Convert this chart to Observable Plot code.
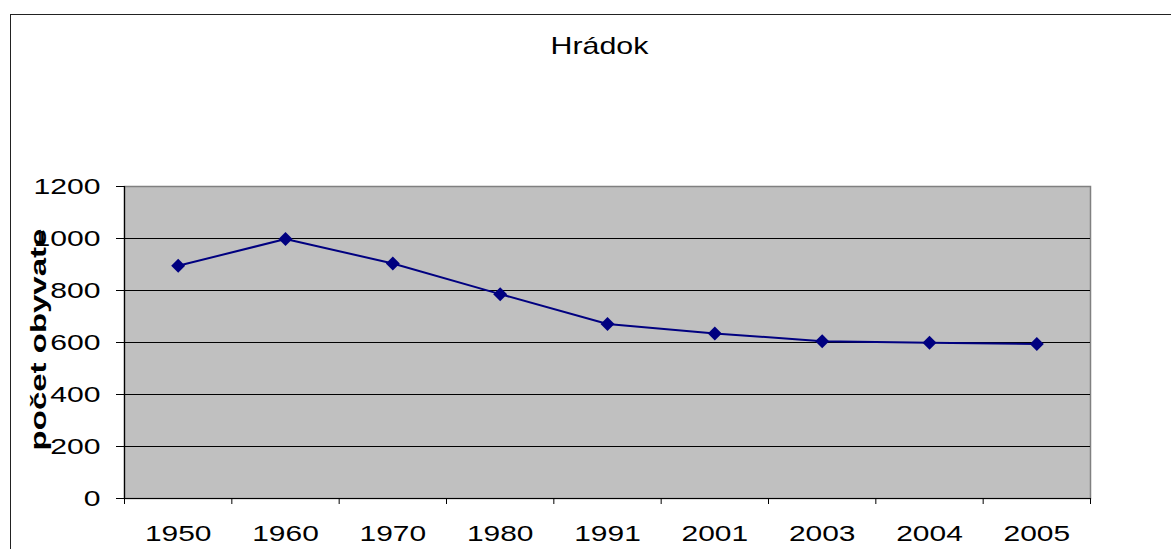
<!DOCTYPE html>
<html>
<head>
<meta charset="utf-8">
<script src="https://cdn.jsdelivr.net/npm/d3@7"></script>
<script src="https://cdn.jsdelivr.net/npm/@observablehq/plot@0.6"></script>
<style>
  html, body { margin: 0; padding: 0; background: #fff; overflow: hidden; }
  #wrap { position: relative; width: 1171px; height: 549px; }
  #border { position: absolute; left: 10px; top: 14px; width: 1300px; height: 700px; border: 1px solid #222; box-sizing: border-box; }
  #chart { position: absolute; left: 0; top: 0; }
  svg text { font-family: "Liberation Sans", Arial, sans-serif; }
</style>
</head>
<body>
<div id="wrap">
  <div id="border"></div>
  <div id="chart"></div>
</div>
<script>
const title = "Hrádok";
const yLabel = "počet obyvate";
const years = ["1950", "1960", "1970", "1980", "1991", "2001", "2003", "2004", "2005"];
const population = [895, 998, 904, 786, 671, 635, 605, 599, 594];
const yTicks = [0, 200, 400, 600, 800, 1000, 1200];
const gridValues = [200, 400, 600, 800, 1000];

const data = years.map((y, i) => ({i, year: y, value: population[i]}));
const bounds = d3.range(years.length + 1).map(k => k - 0.5);

const plot = Plot.plot({
  width: 1171,
  height: 549,
  marginLeft: 124,
  marginRight: 81,
  marginTop: 186,
  marginBottom: 51,
  style: {fontFamily: "Liberation Sans, Arial, sans-serif", background: "transparent", overflow: "visible"},
  x: {type: "linear", domain: [-0.5, years.length - 0.5]},
  y: {domain: [0, 1200]},
  marks: [
    Plot.frame({fill: "#c0c0c0", stroke: "#808080", strokeWidth: 1.5}),
    Plot.ruleY(gridValues, {stroke: "#000", strokeWidth: 1}),
    Plot.ruleY([0], {stroke: "#000", strokeWidth: 1.2}),
    Plot.ruleX([-0.5], {stroke: "#000", strokeWidth: 1.2}),
    Plot.axisY({ticks: yTicks, tickSize: 8, tickPadding: 16, fontSize: 22, stroke: "#000", fill: "#000", label: null, tickFormat: d => String(d)}),
    Plot.axisX({ticks: d3.range(years.length), tickSize: 0, tickPadding: 27, fontSize: 22, fill: "#000", label: null, tickFormat: i => years[i]}),
    Plot.axisX({ticks: bounds, tickSize: 6, stroke: "#000", tickFormat: () => "", label: null}),
    Plot.line(data, {x: "i", y: "value", stroke: "#000080", strokeWidth: 2}),
    Plot.dot(data, {x: "i", y: "value", symbol: "diamond2", r: 6.3, fill: "#000080", stroke: "none"}),
    Plot.text([title], {frameAnchor: "top", dx: -8, dy: -133, lineAnchor: "bottom", fontSize: 23, fill: "#000"}),
    Plot.text([yLabel], {frameAnchor: "left", dx: -79, dy: -3, rotate: -90, lineAnchor: "bottom", textAnchor: "middle", fontSize: 22, fontWeight: "bold", fill: "#000"})
  ]
});

document.getElementById("chart").appendChild(plot);

const svg = d3.select(plot);
function stretch(sel, sx) {
  sel.each(function() {
    const t = this.getAttribute("transform") || "";
    this.setAttribute("transform", t + ` scale(${sx},1)`);
  });
}
stretch(svg.selectAll('g[aria-label="y-axis tick label"] text'), 1.37);
stretch(svg.selectAll('g[aria-label="x-axis tick label"] text'), 1.36);
// title and y label are text marks
svg.selectAll('g[aria-label="text"]').each(function() {
  const g = d3.select(this);
  g.selectAll("text").each(function() {
    const txt = this.textContent;
    const t = this.getAttribute("transform") || "";
    if (txt === title) this.setAttribute("transform", t + " scale(1.32,1)");
    else if (txt === yLabel) this.setAttribute("transform", t + " scale(1.5,1)");
  });
  const gt = this.getAttribute("transform");
});
</script>
</body>
</html>
